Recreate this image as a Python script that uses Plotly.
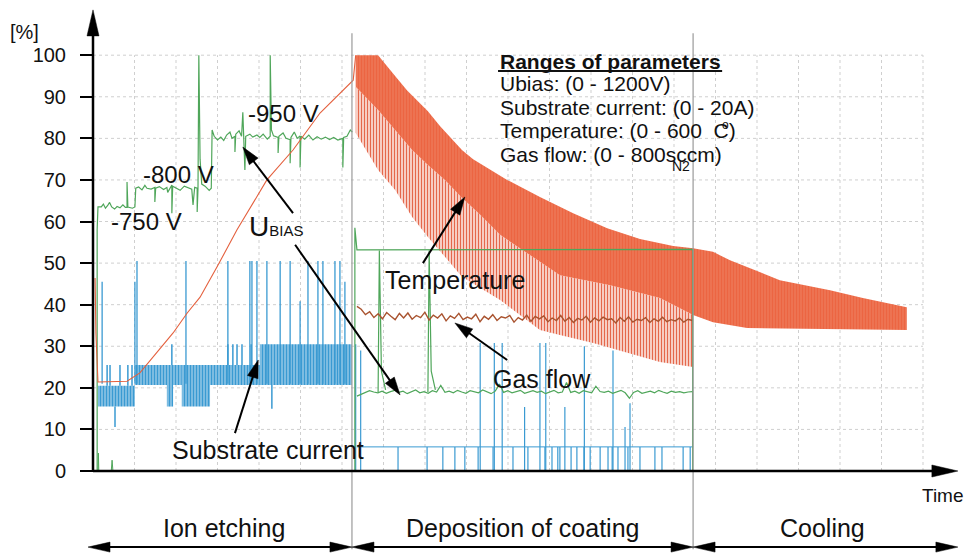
import math
import numpy as np
import plotly.graph_objects as go

# ---------------- data (x = time in grid cells, y = percent) ----------------
y_ticks = list(range(0, 101, 10))
phase_labels = ["Ion etching", "Deposition of coating", "Cooling"]
phase_label_x = [3.16, 10.36, 17.59]
phase_edges = [-0.12, 6.24, 14.46, 20.84]
bias_labels = ["-750 V", "-800 V", "-950 V"]
bias_label_pos = [(1.30, 60.1), (2.05, 71.4), (4.58, 85.9)]
ranges_lines = ["<b>Ranges of parameters</b>", "Ubias: (0 - 1200V)",
                "Substrate current: (0 - 20A)", "Temperature: (0 - 600  C)",
                "Gas flow: (0 - 800sccm)"]
ranges_y = [98.6, 93.1, 87.5, 82.0, 76.2]

# Temperature during ion etching (single line)
temp_etch_x = [0.05, 0.07, 0.12, 0.82, 1.13, 1.33, 1.61, 1.93, 2.27, 2.58, 2.99, 3.47, 4.19, 4.82, 5.47, 6.27, 6.33]
temp_etch_y = [46.4, 33.2, 21.4, 21.6, 23.6, 26.0, 29.1, 33.2, 38.0, 41.8, 49.1, 58.0, 70.0, 77.2, 86.1, 94.0, 100.0]

# Temperature oscillation envelopes (deposition + cooling)
temp_upper_x = [6.33, 6.87, 7.28, 7.57, 8.07, 8.36, 8.89, 9.16, 9.98, 10.77, 11.57, 12.39, 13.18, 13.98, 14.46, 14.94, 15.35, 16.55, 17.76, 18.55, 19.61]
temp_upper_y = [100, 100, 95.0, 91.5, 86.5, 83.0, 77.2, 75.0, 70.0, 65.9, 62.0, 58.4, 55.8, 54.1, 53.6, 52.7, 50.7, 45.9, 43.5, 41.6, 39.4]
temp_dense_low_x = [6.33, 6.87, 7.28, 7.69, 8.07, 8.48, 8.89, 9.33, 9.81, 10.77, 11.25, 12.46, 13.66, 14.46, 14.94, 15.76, 19.61]
temp_dense_low_y = [92.4, 86.8, 82.0, 77.2, 73.6, 70.0, 65.7, 61.6, 56.8, 50.3, 47.1, 44.7, 41.6, 37.5, 35.8, 34.4, 33.9]
temp_spike_low_x = [6.33, 6.87, 7.28, 7.69, 8.07, 8.48, 8.89, 9.81, 10.77, 11.25, 12.05, 12.87, 13.66, 14.46]
temp_spike_low_y = [81.3, 72.4, 67.6, 61.1, 56.3, 51.5, 46.7, 41.1, 33.9, 32.7, 30.8, 28.4, 26.2, 25.0]

# Gas flow (deposition), sampled evenly between start and end
gas_start, gas_end = 6.36, 14.44
gas_flow = [39.6, 38.9, 37.6, 38.3, 36.9, 37.8, 36.6, 38.1, 37.2, 36.4,
            37.9, 36.8, 38.0, 36.5, 37.4, 36.9, 38.2, 36.3, 37.5, 36.8,
            37.8, 36.1, 37.3, 36.7, 37.9, 36.4, 37.0, 36.6, 37.7, 35.9,
            37.2, 36.5, 37.6, 36.2, 37.1, 36.8, 37.4, 35.8, 36.9, 36.3,
            37.5, 36.0, 37.2, 36.6, 37.3, 35.9, 36.8, 36.2, 37.4, 36.0,
            36.9, 35.7, 36.7, 36.3, 37.2, 35.8, 36.8, 36.1, 37.0, 36.4,
            36.6, 35.6, 36.9, 36.0, 37.1, 35.8, 36.5, 36.2, 36.9, 35.7,
            36.6, 36.0, 37.0, 35.9, 36.4, 36.1, 36.8, 35.8, 36.5, 36.2]

# U_BIAS during ion etching
ubias_etch = [(0.10, 0), (0.10, 58.0), (0.12, 63.5), (0.20, 63.5), (0.25, 64.2), (0.30, 63.2), (0.35, 63.8),
              (0.40, 64.6), (0.45, 63.5), (0.52, 63.0), (0.58, 63.6), (0.65, 63.3), (0.72, 64.0), (0.78, 63.4),
              (0.82, 63.4), (0.82, 69.5), (0.84, 63.5), (0.95, 63.2), (1.01, 63.5), (1.03, 68.0), (1.10, 68.3),
              (1.18, 67.6), (1.25, 68.7), (1.30, 68.0), (1.40, 67.8), (1.49, 68.2), (1.49, 64.7), (1.51, 68.0),
              (1.60, 68.4), (1.70, 67.7), (1.78, 68.2), (1.80, 67.0), (1.90, 68.8), (1.90, 62.0), (1.92, 68.5),
              (2.00, 68.0), (2.10, 67.5), (2.20, 68.5), (2.30, 68.0), (2.38, 67.8), (2.41, 64.0), (2.45, 68.2),
              (2.51, 68.0), (2.51, 62.3), (2.53, 68.0), (2.55, 100.0), (2.58, 75.0), (2.62, 69.0), (2.70, 68.5),
              (2.80, 67.5), (2.85, 68.0), (2.87, 82.0), (2.92, 80.5), (3.00, 79.6), (3.08, 80.3), (3.15, 79.5),
              (3.22, 80.8), (3.30, 81.5), (3.35, 80.0), (3.42, 80.5), (3.42, 76.7), (3.44, 81.0), (3.52, 81.8),
              (3.58, 80.5), (3.61, 86.3), (3.63, 80.2), (3.66, 72.4), (3.68, 80.5), (3.78, 81.0), (3.85, 80.3),
              (3.95, 80.8), (4.02, 80.2), (4.10, 81.0), (4.20, 79.8), (4.27, 80.5), (4.27, 100.0), (4.30, 82.0),
              (4.35, 80.6), (4.46, 80.2), (4.46, 76.5), (4.48, 80.5), (4.58, 81.3), (4.65, 80.0), (4.75, 79.7),
              (4.75, 74.0), (4.77, 80.2), (4.85, 81.5), (4.92, 80.0), (4.99, 80.6), (4.99, 73.0), (5.01, 80.5),
              (5.10, 79.8), (5.20, 80.8), (5.30, 79.6), (5.40, 80.4), (5.50, 79.8), (5.60, 80.3), (5.70, 79.7),
              (5.80, 80.2), (5.90, 79.6), (6.02, 80.0), (6.02, 73.0), (6.04, 80.2), (6.12, 80.5), (6.20, 82.0),
              (6.25, 81.5)]
ubias_small_x = [0.12, 0.13, 0.14, None, 0.44, 0.46, 0.48]
ubias_small_y = [0, 4.3, 0, None, 0, 2.6, 0]

# U_BIAS during deposition (evenly sampled) + two spikes
ubias_dep_start, ubias_dep_end = 6.36, 14.44
ubias_dep = [18.0, 18.4, 18.9, 19.3, 19.0, 18.8, 19.2, 18.7, 19.1, 19.4,
             18.9, 19.2, 18.6, 19.0, 19.5, 18.8, 19.1, 18.7, 19.3, 19.0,
             20.6, 18.9, 19.2, 18.8, 19.4, 19.0, 18.7, 19.3, 19.1, 18.8,
             19.5, 19.0, 18.6, 19.2, 20.9, 18.9, 19.3, 18.8, 19.1, 19.4,
             18.7, 19.0, 19.3, 18.9, 19.2, 18.6, 19.1, 19.4, 18.8, 19.0,
             21.3, 18.9, 19.2, 18.7, 19.3, 19.0, 18.8, 20.4, 19.1, 18.9,
             19.2, 18.7, 19.0, 19.4, 18.8, 17.5, 18.9, 19.3, 18.7, 19.0,
             19.2, 18.8, 19.4, 19.0, 18.7, 19.2, 18.9, 19.1, 18.8, 19.0, 19.1]
ubias_spike_x = [6.87, 6.90, 6.95, 7.05, None, 8.07, 8.10, 8.15, 8.25]
ubias_spike_y = [19.0, 53.0, 24.0, 19.5, None, 19.0, 53.0, 24.0, 19.5]
green_upper_x = [6.31, 6.31, 6.36, 14.45, 14.45]
green_upper_y = [0, 58.5, 53.2, 53.3, 0]

# Substrate current, ion etching: bands (x0, x1, low, high)
current_blocks = [(0.12, 1.01, 15.5, 20.5), (1.01, 2.14, 20.7, 25.5), (1.78, 1.93, 15.5, 20.7),
                  (2.14, 2.82, 15.5, 25.5), (2.82, 4.02, 20.7, 25.5), (4.02, 6.24, 20.7, 30.5)]
current_stripe_x = [0.34, 0.41, 0.65, 0.84, 0.94, 3.25, 3.37, 3.47, 3.59, 3.81, 1.90, 0.53, 4.31]
current_stripe_lo = [20.5, 20.5, 20.5, 20.5, 20.5, 25.5, 25.5, 25.5, 25.5, 25.5, 25.5, 10.6, 15.0]
current_stripe_hi = [25.5, 25.5, 25.5, 25.5, 25.5, 30.5, 30.5, 30.5, 30.5, 30.5, 30.5, 15.5, 20.7]
current_peak_x = [1.06, 2.24, 3.25, 3.78, 3.83, 3.95, 4.19, 4.51, 4.75, 5.18, 5.42, 5.54, 5.83, 5.95, 0.22, 1.01, 6.07, 4.99]
current_peak_y = [50.5, 50.5, 50.5, 50.5, 50.5, 50.5, 50.5, 50.5, 50.5, 50.5, 50.5, 50.5, 50.5, 50.5, 45.5, 45.5, 45.5, 40.8]
# Substrate current, deposition
current_dep_level = 5.8
current_dep_short_x = [7.35, 8.05, 8.43, 8.72, 8.96, 9.28, 9.64, 10.12, 10.48, 10.89, 11.06, 11.20, 11.25,
                       11.52, 11.66, 11.83, 11.98, 12.22, 12.41, 12.51, 12.65, 12.89, 13.18, 13.54, 13.71, 14.22, 14.39]
current_dep_tall_x = [6.33, 6.45, 9.33, 9.67, 9.86, 10.40, 10.77, 10.91, 11.37, 11.84, 12.53, 12.82, 12.94]
current_dep_tall_y = [30.5, 29.0, 30.8, 30.8, 30.8, 15.4, 30.8, 30.8, 15.4, 30.0, 29.0, 10.6, 16.3]

# ---------------- frame ----------------
W, H = 970, 553
X0_PX, DX_PX = 93.0, 41.5
Y0_PX, DY_PX = 471.0, 4.158
XMIN, XMAX = -X0_PX / DX_PX, (W - X0_PX) / DX_PX
YMIN, YMAX = -(H - Y0_PX) / DY_PX, Y0_PX / DY_PX
FONT = "Liberation Sans, Arial, Helvetica, sans-serif"

ORANGE = "#EC6542"
GREEN = "#4FA65A"
BLUE = "#3A9AD2"
BROWN = "#A9532F"


def to_px(x, y):
    return (x - XMIN) / (XMAX - XMIN) * W, (YMAX - y) / (YMAX - YMIN) * H


def to_data(px, py):
    return XMIN + px / W * (XMAX - XMIN), YMAX - py / H * (YMAX - YMIN)


def segs(xs, lo, hi):
    X, Y = [], []
    for x, a, b in zip(xs, lo, hi):
        X += [x, x, None]
        Y += [a, b, None]
    return X, Y


fig = go.Figure()

# temperature bands (oscillation drawn as vertical-stripe texture)
fig.add_trace(go.Scatter(x=temp_dense_low_x[:14] + temp_spike_low_x[::-1],
                         y=temp_dense_low_y[:14] + temp_spike_low_y[::-1],
                         fill="toself", mode="lines", line=dict(width=0),
                         fillpattern=dict(shape="|", fgcolor="#E4684C", bgcolor="#FBE3DC",
                                          size=3, solidity=0.45, fillmode="replace")))
fig.add_trace(go.Scatter(x=temp_upper_x + temp_dense_low_x[::-1],
                         y=temp_upper_y + temp_dense_low_y[::-1],
                         fill="toself", mode="lines", line=dict(width=0),
                         fillpattern=dict(shape="|", fgcolor=ORANGE, bgcolor="#F29478",
                                          size=3, solidity=0.8, fillmode="replace")))

# substrate current blocks
fig.add_trace(go.Bar(x=[(a + b) / 2 for a, b, _, _ in current_blocks],
                     y=[h - l for _, _, l, h in current_blocks],
                     base=[l for _, _, l, _ in current_blocks],
                     width=[b - a for a, b, _, _ in current_blocks],
                     marker=dict(color=BLUE, line=dict(width=0),
                                 pattern=dict(shape="|", fgcolor=BLUE, bgcolor="#cfe6f4",
                                              size=3, solidity=0.7, fillmode="replace"))))
sx, sy = segs(current_stripe_x, current_stripe_lo, current_stripe_hi)
fig.add_trace(go.Scatter(x=sx, y=sy, mode="lines", line=dict(color=BLUE, width=1.5)))
px_, py_ = segs(current_peak_x, [21] * len(current_peak_x), current_peak_y)
fig.add_trace(go.Scatter(x=px_, y=py_, mode="lines", line=dict(color=BLUE, width=1.3)))
fig.add_trace(go.Scatter(x=[6.36, 14.46], y=[current_dep_level] * 2, mode="lines", line=dict(color=BLUE, width=1)))
dx_, dy_ = segs(current_dep_short_x, [0] * len(current_dep_short_x), [current_dep_level] * len(current_dep_short_x))
fig.add_trace(go.Scatter(x=dx_, y=dy_, mode="lines", line=dict(color=BLUE, width=1.2)))
tx_, ty_ = segs(current_dep_tall_x, [0] * len(current_dep_tall_x), current_dep_tall_y)
fig.add_trace(go.Scatter(x=tx_, y=ty_, mode="lines", line=dict(color=BLUE, width=1.2)))

# green signals
ux, uy = zip(*ubias_etch)
fig.add_trace(go.Scatter(x=list(ux), y=list(uy), mode="lines", line=dict(color=GREEN, width=1.2)))
fig.add_trace(go.Scatter(x=ubias_small_x, y=ubias_small_y, mode="lines", line=dict(color=GREEN, width=1)))
fig.add_trace(go.Scatter(x=np.linspace(ubias_dep_start, ubias_dep_end, len(ubias_dep)), y=ubias_dep,
                         mode="lines", line=dict(color=GREEN, width=1.2)))
fig.add_trace(go.Scatter(x=ubias_spike_x, y=ubias_spike_y, mode="lines", line=dict(color=GREEN, width=1.2)))
fig.add_trace(go.Scatter(x=green_upper_x, y=green_upper_y, mode="lines", line=dict(color=GREEN, width=1.2)))

# gas flow
fig.add_trace(go.Scatter(x=np.linspace(gas_start, gas_end, len(gas_flow)), y=gas_flow,
                         mode="lines", line=dict(color=BROWN, width=1.4)))
# temperature in ion etching
fig.add_trace(go.Scatter(x=temp_etch_x, y=temp_etch_y, mode="lines", line=dict(color="#E4603E", width=1.1)))

shapes = []
# grid
for gx in range(1, 21):
    shapes.append(dict(type="line", x0=gx, x1=gx, y0=0, y1=100, layer="below",
                       line=dict(color="#cfcfcf", width=1, dash="3px,3px")))
for gy in range(10, 101, 10):
    shapes.append(dict(type="line", x0=0, x1=20, y0=gy, y1=gy, layer="below",
                       line=dict(color="#cfcfcf", width=1, dash="3px,3px")))
# phase separators
for e in phase_edges[1:3]:
    shapes.append(dict(type="line", x0=e, x1=e, y0=105.3, y1=-18.8, line=dict(color="#9a9a9a", width=1.2)))


def arrow(tail, tip, L=18, hw=5.5, width=2, both=False):
    tx, ty = to_px(*tail)
    hx, hy = to_px(*tip)
    d = math.hypot(hx - tx, hy - ty)
    ux_, uy_ = (hx - tx) / d, (hy - ty) / d
    nx, ny = -uy_, ux_

    def head(px, py, sx_, sy_):
        bx, by = px - L * sx_, py - L * sy_
        p0 = to_data(px, py)
        p1 = to_data(bx + hw * nx, by + hw * ny)
        p2 = to_data(bx - hw * nx, by - hw * ny)
        shapes.append(dict(type="path", path=f"M{p0[0]},{p0[1]} L{p1[0]},{p1[1]} L{p2[0]},{p2[1]} Z",
                           fillcolor="black", line=dict(color="black", width=0.5)))
        return to_data(px - 0.6 * L * sx_, py - 0.6 * L * sy_)

    end = head(hx, hy, ux_, uy_)
    start = tail
    if both:
        start = head(tx, ty, -ux_, -uy_)
    shapes.append(dict(type="line", x0=start[0], y0=start[1], x1=end[0], y1=end[1],
                       line=dict(color="black", width=width)))


# axes
arrow((0, 0), (0, 110.9), L=26, hw=6, width=2.5)
arrow((0, 0), (20.84, 0), L=26, hw=6, width=2.5)
# phase arrows
for a, b in zip(phase_edges[:-1], phase_edges[1:]):
    arrow((a, -18.3), (b, -18.3), L=22, hw=5, width=2, both=True)
# pointer arrows
arrow((4.82, 62.0), (3.61, 77.9))
arrow((4.87, 54.4), (7.40, 18.3))
arrow((3.42, 9.1), (3.98, 26.7))
arrow((7.95, 50.0), (8.96, 65.9))
arrow((9.98, 26.7), (8.72, 35.6))
# underline of the heading
shapes.append(dict(type="line", x0=9.76, x1=15.16, y0=96.2, y1=96.2, line=dict(color="#111", width=2)))

ann = []


def text(x, y, s, size, xanchor="center"):
    ann.append(dict(x=x, y=y, text=s, showarrow=False, xanchor=xanchor, yanchor="middle",
                    font=dict(family=FONT, size=size, color="#111")))


text(-1.66, 105.6, "[%]", 20)
for (bx, by), s in zip(bias_label_pos, bias_labels):
    text(bx, by, s, 24)
text(4.41, 58.9, "U<span style='font-size:15px'>BIAS</span>", 28)
text(8.72, 45.9, "Temperature", 25)
text(10.82, 22.1, "Gas flow", 25)
text(4.22, 5.1, "Substrate current", 25)
for s, ry in zip(ranges_lines, ranges_y):
    text(9.76, ry, s, 21, xanchor="left")
text(15.24, 83.1, "o", 12)
text(14.17, 73.4, "N2", 14)
text(20.48, -6.0, "Time", 19)
for lx, s in zip(phase_label_x, phase_labels):
    text(lx, -13.7, s, 25)

fig.update_layout(
    width=W, height=H, margin=dict(l=0, r=0, t=0, b=0),
    plot_bgcolor="white", paper_bgcolor="white", showlegend=False,
    xaxis=dict(range=[XMIN, XMAX], visible=False),
    yaxis=dict(range=[YMIN, YMAX], anchor="free", position=X0_PX / W, tickvals=y_ticks,
               ticks="outside", ticklen=13, tickwidth=2, tickcolor="black",
               showline=False, showgrid=False, zeroline=False, automargin=False,
               tickfont=dict(size=20, family=FONT, color="#111"), ticklabelstandoff=10),
    shapes=shapes, annotations=ann,
)
fig.write_html("out.html")
